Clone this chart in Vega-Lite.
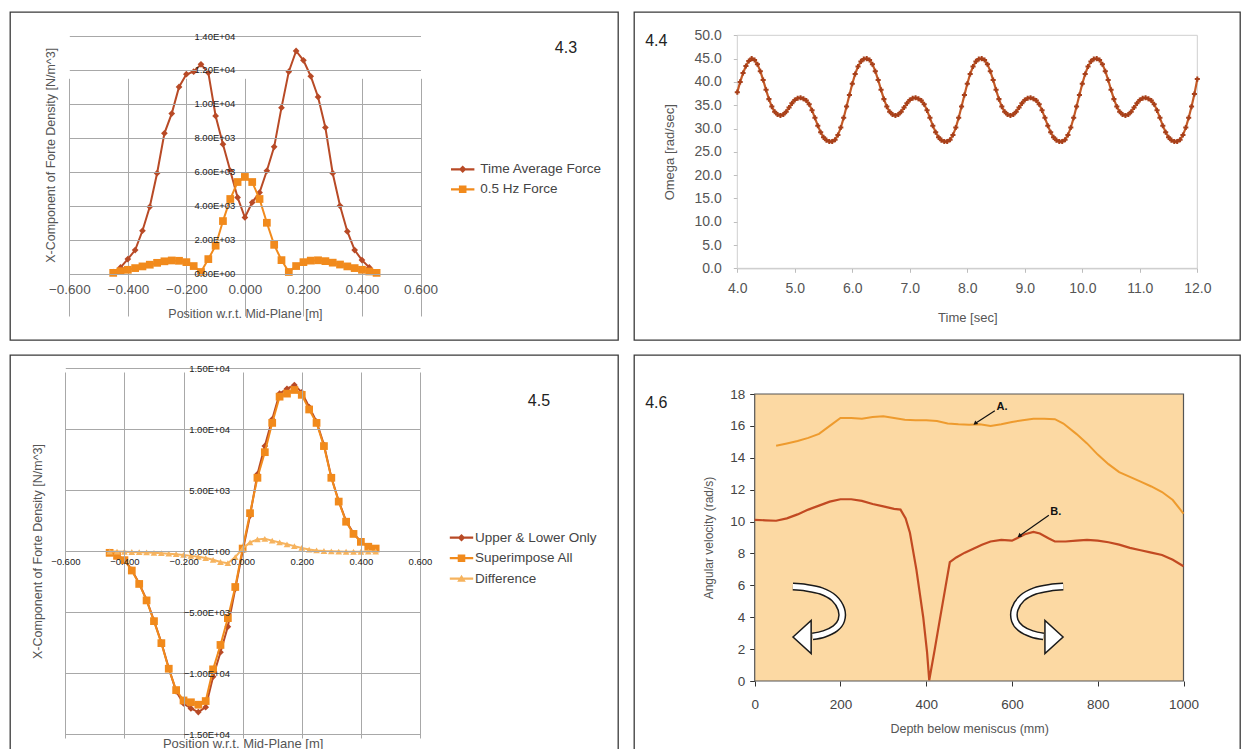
{
"$schema": "https://vega.github.io/schema/vega-lite/v6.json",
"background": "white",
"padding": {"left": 9, "top": 11, "right": 0, "bottom": 0},
"config": {
  "font": "Liberation Sans",
  "view": {"stroke": null},
  "axis": {"labelFont": "Liberation Sans", "titleFont": "Liberation Sans", "titleFontWeight": "normal", "titleColor": "#555", "labelOverlap": false, "labelFlush": false, "labelBound": false},
  "legend": {"labelFont": "Liberation Sans"},
  "text": {"font": "Liberation Sans"}
},
"datasets": {
  "p43": [
    {"s":"Time Average Force","x":-0.45,"y":100},{"s":"Time Average Force","x":-0.425,"y":370},{"s":"Time Average Force","x":-0.4,"y":860},{"s":"Time Average Force","x":-0.375,"y":1390},{"s":"Time Average Force","x":-0.35,"y":2530},{"s":"Time Average Force","x":-0.325,"y":3940},{"s":"Time Average Force","x":-0.3,"y":5920},{"s":"Time Average Force","x":-0.275,"y":8270},{"s":"Time Average Force","x":-0.25,"y":9430},{"s":"Time Average Force","x":-0.225,"y":11000},{"s":"Time Average Force","x":-0.2,"y":11750},{"s":"Time Average Force","x":-0.175,"y":11900},{"s":"Time Average Force","x":-0.15,"y":12330},{"s":"Time Average Force","x":-0.125,"y":11840},{"s":"Time Average Force","x":-0.1,"y":9290},{"s":"Time Average Force","x":-0.075,"y":7630},{"s":"Time Average Force","x":-0.05,"y":6060},{"s":"Time Average Force","x":-0.025,"y":4490},{"s":"Time Average Force","x":0,"y":3310},{"s":"Time Average Force","x":0.025,"y":4200},{"s":"Time Average Force","x":0.05,"y":4780},{"s":"Time Average Force","x":0.075,"y":6060},{"s":"Time Average Force","x":0.1,"y":7470},{"s":"Time Average Force","x":0.125,"y":9780},{"s":"Time Average Force","x":0.15,"y":11900},{"s":"Time Average Force","x":0.175,"y":13120},{"s":"Time Average Force","x":0.2,"y":12570},{"s":"Time Average Force","x":0.225,"y":11630},{"s":"Time Average Force","x":0.25,"y":10410},{"s":"Time Average Force","x":0.275,"y":8610},{"s":"Time Average Force","x":0.3,"y":5920},{"s":"Time Average Force","x":0.325,"y":4000},{"s":"Time Average Force","x":0.35,"y":2490},{"s":"Time Average Force","x":0.375,"y":1390},{"s":"Time Average Force","x":0.4,"y":800},{"s":"Time Average Force","x":0.425,"y":370},{"s":"Time Average Force","x":0.45,"y":80},
    {"s":"0.5 Hz Force","x":-0.45,"y":50},{"s":"0.5 Hz Force","x":-0.425,"y":150},{"s":"0.5 Hz Force","x":-0.4,"y":230},{"s":"0.5 Hz Force","x":-0.375,"y":330},{"s":"0.5 Hz Force","x":-0.35,"y":430},{"s":"0.5 Hz Force","x":-0.325,"y":530},{"s":"0.5 Hz Force","x":-0.3,"y":640},{"s":"0.5 Hz Force","x":-0.275,"y":730},{"s":"0.5 Hz Force","x":-0.25,"y":780},{"s":"0.5 Hz Force","x":-0.225,"y":760},{"s":"0.5 Hz Force","x":-0.2,"y":680},{"s":"0.5 Hz Force","x":-0.175,"y":450},{"s":"0.5 Hz Force","x":-0.15,"y":100},{"s":"0.5 Hz Force","x":-0.125,"y":860},{"s":"0.5 Hz Force","x":-0.1,"y":1650},{"s":"0.5 Hz Force","x":-0.075,"y":3100},{"s":"0.5 Hz Force","x":-0.05,"y":4400},{"s":"0.5 Hz Force","x":-0.025,"y":5400},{"s":"0.5 Hz Force","x":0,"y":5700},{"s":"0.5 Hz Force","x":0.025,"y":5400},{"s":"0.5 Hz Force","x":0.05,"y":4400},{"s":"0.5 Hz Force","x":0.075,"y":3000},{"s":"0.5 Hz Force","x":0.1,"y":1700},{"s":"0.5 Hz Force","x":0.125,"y":800},{"s":"0.5 Hz Force","x":0.15,"y":100},{"s":"0.5 Hz Force","x":0.175,"y":450},{"s":"0.5 Hz Force","x":0.2,"y":680},{"s":"0.5 Hz Force","x":0.225,"y":770},{"s":"0.5 Hz Force","x":0.25,"y":790},{"s":"0.5 Hz Force","x":0.275,"y":740},{"s":"0.5 Hz Force","x":0.3,"y":650},{"s":"0.5 Hz Force","x":0.325,"y":540},{"s":"0.5 Hz Force","x":0.35,"y":430},{"s":"0.5 Hz Force","x":0.375,"y":330},{"s":"0.5 Hz Force","x":0.4,"y":230},{"s":"0.5 Hz Force","x":0.425,"y":130},{"s":"0.5 Hz Force","x":0.45,"y":50}
  ],
  "p44": [
    {"t":4.00,"w":37.8},{"t":4.05,"w":40.0},{"t":4.10,"w":41.9},{"t":4.15,"w":43.4},{"t":4.20,"w":44.5},
    {"t":4.25,"w":45.0},{"t":4.30,"w":44.7},{"t":4.35,"w":43.8},{"t":4.40,"w":42.3},{"t":4.45,"w":40.4},{"t":4.50,"w":38.3},{"t":4.55,"w":36.3},{"t":4.60,"w":34.7},{"t":4.65,"w":33.6},{"t":4.70,"w":33.0},{"t":4.75,"w":32.8},{"t":4.80,"w":33.0},{"t":4.85,"w":33.6},{"t":4.90,"w":34.5},{"t":4.95,"w":35.4},{"t":5.00,"w":36.1},{"t":5.05,"w":36.5},{"t":5.10,"w":36.6},{"t":5.15,"w":36.4},{"t":5.20,"w":36.0},{"t":5.25,"w":35.2},{"t":5.30,"w":33.9},{"t":5.35,"w":32.3},{"t":5.40,"w":30.6},{"t":5.45,"w":29.2},{"t":5.50,"w":28.1},{"t":5.55,"w":27.5},{"t":5.60,"w":27.2},{"t":5.65,"w":27.2},{"t":5.70,"w":27.6},{"t":5.75,"w":28.6},{"t":5.80,"w":30.2},{"t":5.85,"w":32.3},{"t":5.90,"w":34.7},{"t":5.95,"w":37.2},{"t":6.00,"w":39.6},{"t":6.05,"w":41.7},{"t":6.10,"w":43.3},{"t":6.15,"w":44.4},{"t":6.20,"w":44.9},
    {"t":6.25,"w":45.0},{"t":6.30,"w":44.7},{"t":6.35,"w":43.8},{"t":6.40,"w":42.3},{"t":6.45,"w":40.4},{"t":6.50,"w":38.3},{"t":6.55,"w":36.3},{"t":6.60,"w":34.7},{"t":6.65,"w":33.6},{"t":6.70,"w":33.0},{"t":6.75,"w":32.8},{"t":6.80,"w":33.0},{"t":6.85,"w":33.6},{"t":6.90,"w":34.5},{"t":6.95,"w":35.4},{"t":7.00,"w":36.1},{"t":7.05,"w":36.5},{"t":7.10,"w":36.6},{"t":7.15,"w":36.4},{"t":7.20,"w":36.0},{"t":7.25,"w":35.2},{"t":7.30,"w":33.9},{"t":7.35,"w":32.3},{"t":7.40,"w":30.6},{"t":7.45,"w":29.2},{"t":7.50,"w":28.1},{"t":7.55,"w":27.5},{"t":7.60,"w":27.2},{"t":7.65,"w":27.2},{"t":7.70,"w":27.6},{"t":7.75,"w":28.6},{"t":7.80,"w":30.2},{"t":7.85,"w":32.3},{"t":7.90,"w":34.7},{"t":7.95,"w":37.2},{"t":8.00,"w":39.6},{"t":8.05,"w":41.7},{"t":8.10,"w":43.3},{"t":8.15,"w":44.4},{"t":8.20,"w":44.9},
    {"t":8.25,"w":45.0},{"t":8.30,"w":44.7},{"t":8.35,"w":43.8},{"t":8.40,"w":42.3},{"t":8.45,"w":40.4},{"t":8.50,"w":38.3},{"t":8.55,"w":36.3},{"t":8.60,"w":34.7},{"t":8.65,"w":33.6},{"t":8.70,"w":33.0},{"t":8.75,"w":32.8},{"t":8.80,"w":33.0},{"t":8.85,"w":33.6},{"t":8.90,"w":34.5},{"t":8.95,"w":35.4},{"t":9.00,"w":36.1},{"t":9.05,"w":36.5},{"t":9.10,"w":36.6},{"t":9.15,"w":36.4},{"t":9.20,"w":36.0},{"t":9.25,"w":35.2},{"t":9.30,"w":33.9},{"t":9.35,"w":32.3},{"t":9.40,"w":30.6},{"t":9.45,"w":29.2},{"t":9.50,"w":28.1},{"t":9.55,"w":27.5},{"t":9.60,"w":27.2},{"t":9.65,"w":27.2},{"t":9.70,"w":27.6},{"t":9.75,"w":28.6},{"t":9.80,"w":30.2},{"t":9.85,"w":32.3},{"t":9.90,"w":34.7},{"t":9.95,"w":37.2},{"t":10.00,"w":39.6},{"t":10.05,"w":41.7},{"t":10.10,"w":43.3},{"t":10.15,"w":44.4},{"t":10.20,"w":44.9},
    {"t":10.25,"w":45.0},{"t":10.30,"w":44.7},{"t":10.35,"w":43.8},{"t":10.40,"w":42.3},{"t":10.45,"w":40.4},{"t":10.50,"w":38.3},{"t":10.55,"w":36.3},{"t":10.60,"w":34.7},{"t":10.65,"w":33.6},{"t":10.70,"w":33.0},{"t":10.75,"w":32.8},{"t":10.80,"w":33.0},{"t":10.85,"w":33.6},{"t":10.90,"w":34.5},{"t":10.95,"w":35.4},{"t":11.00,"w":36.1},{"t":11.05,"w":36.5},{"t":11.10,"w":36.6},{"t":11.15,"w":36.4},{"t":11.20,"w":36.0},{"t":11.25,"w":35.2},{"t":11.30,"w":33.9},{"t":11.35,"w":32.3},{"t":11.40,"w":30.6},{"t":11.45,"w":29.2},{"t":11.50,"w":28.1},{"t":11.55,"w":27.5},{"t":11.60,"w":27.2},{"t":11.65,"w":27.2},{"t":11.70,"w":27.6},{"t":11.75,"w":28.6},{"t":11.80,"w":30.2},{"t":11.85,"w":32.3},{"t":11.90,"w":34.7},{"t":11.95,"w":37.4},{"t":12.00,"w":40.6}
  ],
  "p45": [
    {"s":"Upper & Lower Only","x":-0.45,"y":-100},{"s":"Upper & Lower Only","x":-0.425,"y":-350},{"s":"Upper & Lower Only","x":-0.4,"y":-700},{"s":"Upper & Lower Only","x":-0.375,"y":-1550},{"s":"Upper & Lower Only","x":-0.35,"y":-2650},{"s":"Upper & Lower Only","x":-0.325,"y":-4000},{"s":"Upper & Lower Only","x":-0.3,"y":-5700},{"s":"Upper & Lower Only","x":-0.275,"y":-7500},{"s":"Upper & Lower Only","x":-0.25,"y":-9600},{"s":"Upper & Lower Only","x":-0.225,"y":-11500},{"s":"Upper & Lower Only","x":-0.2,"y":-12500},{"s":"Upper & Lower Only","x":-0.175,"y":-12900},{"s":"Upper & Lower Only","x":-0.15,"y":-13200},{"s":"Upper & Lower Only","x":-0.125,"y":-12800},{"s":"Upper & Lower Only","x":-0.1,"y":-10300},{"s":"Upper & Lower Only","x":-0.075,"y":-8300},{"s":"Upper & Lower Only","x":-0.05,"y":-6200},{"s":"Upper & Lower Only","x":-0.025,"y":-3100},{"s":"Upper & Lower Only","x":0,"y":0},{"s":"Upper & Lower Only","x":0.025,"y":2900},{"s":"Upper & Lower Only","x":0.05,"y":6300},{"s":"Upper & Lower Only","x":0.075,"y":8600},{"s":"Upper & Lower Only","x":0.1,"y":10800},{"s":"Upper & Lower Only","x":0.125,"y":12900},{"s":"Upper & Lower Only","x":0.15,"y":13300},{"s":"Upper & Lower Only","x":0.175,"y":13600},{"s":"Upper & Lower Only","x":0.2,"y":13000},{"s":"Upper & Lower Only","x":0.225,"y":11800},{"s":"Upper & Lower Only","x":0.25,"y":10600},{"s":"Upper & Lower Only","x":0.275,"y":8700},{"s":"Upper & Lower Only","x":0.3,"y":6050},{"s":"Upper & Lower Only","x":0.325,"y":4100},{"s":"Upper & Lower Only","x":0.35,"y":2450},{"s":"Upper & Lower Only","x":0.375,"y":1450},{"s":"Upper & Lower Only","x":0.4,"y":760},{"s":"Upper & Lower Only","x":0.425,"y":360},{"s":"Upper & Lower Only","x":0.45,"y":200},
    {"s":"Superimpose All","x":-0.45,"y":-150},{"s":"Superimpose All","x":-0.425,"y":-400},{"s":"Superimpose All","x":-0.4,"y":-750},{"s":"Superimpose All","x":-0.375,"y":-1600},{"s":"Superimpose All","x":-0.35,"y":-2700},{"s":"Superimpose All","x":-0.325,"y":-4050},{"s":"Superimpose All","x":-0.3,"y":-5750},{"s":"Superimpose All","x":-0.275,"y":-7550},{"s":"Superimpose All","x":-0.25,"y":-9650},{"s":"Superimpose All","x":-0.225,"y":-11400},{"s":"Superimpose All","x":-0.2,"y":-12250},{"s":"Superimpose All","x":-0.175,"y":-12400},{"s":"Superimpose All","x":-0.15,"y":-12600},{"s":"Superimpose All","x":-0.125,"y":-12300},{"s":"Superimpose All","x":-0.1,"y":-9700},{"s":"Superimpose All","x":-0.075,"y":-7700},{"s":"Superimpose All","x":-0.05,"y":-5500},{"s":"Superimpose All","x":-0.025,"y":-2950},{"s":"Superimpose All","x":0,"y":200},{"s":"Superimpose All","x":0.025,"y":3100},{"s":"Superimpose All","x":0.05,"y":6000},{"s":"Superimpose All","x":0.075,"y":8100},{"s":"Superimpose All","x":0.1,"y":10500},{"s":"Superimpose All","x":0.125,"y":12650},{"s":"Superimpose All","x":0.15,"y":12900},{"s":"Superimpose All","x":0.175,"y":13200},{"s":"Superimpose All","x":0.2,"y":12800},{"s":"Superimpose All","x":0.225,"y":11600},{"s":"Superimpose All","x":0.25,"y":10500},{"s":"Superimpose All","x":0.275,"y":8600},{"s":"Superimpose All","x":0.3,"y":6000},{"s":"Superimpose All","x":0.325,"y":4050},{"s":"Superimpose All","x":0.35,"y":2400},{"s":"Superimpose All","x":0.375,"y":1400},{"s":"Superimpose All","x":0.4,"y":750},{"s":"Superimpose All","x":0.425,"y":350},{"s":"Superimpose All","x":0.45,"y":200},
    {"s":"Difference","x":-0.45,"y":-50},{"s":"Difference","x":-0.425,"y":-50},{"s":"Difference","x":-0.4,"y":-60},{"s":"Difference","x":-0.375,"y":-80},{"s":"Difference","x":-0.35,"y":-100},{"s":"Difference","x":-0.325,"y":-120},{"s":"Difference","x":-0.3,"y":-150},{"s":"Difference","x":-0.275,"y":-180},{"s":"Difference","x":-0.25,"y":-220},{"s":"Difference","x":-0.225,"y":-260},{"s":"Difference","x":-0.2,"y":-320},{"s":"Difference","x":-0.175,"y":-400},{"s":"Difference","x":-0.15,"y":-480},{"s":"Difference","x":-0.125,"y":-580},{"s":"Difference","x":-0.1,"y":-720},{"s":"Difference","x":-0.075,"y":-900},{"s":"Difference","x":-0.05,"y":-1000},{"s":"Difference","x":-0.025,"y":-500},{"s":"Difference","x":0,"y":200},{"s":"Difference","x":0.025,"y":700},{"s":"Difference","x":0.05,"y":950},{"s":"Difference","x":0.075,"y":1000},{"s":"Difference","x":0.1,"y":850},{"s":"Difference","x":0.125,"y":700},{"s":"Difference","x":0.15,"y":550},{"s":"Difference","x":0.175,"y":400},{"s":"Difference","x":0.2,"y":250},{"s":"Difference","x":0.225,"y":120},{"s":"Difference","x":0.25,"y":50},{"s":"Difference","x":0.275,"y":0},{"s":"Difference","x":0.3,"y":-30},{"s":"Difference","x":0.325,"y":-50},{"s":"Difference","x":0.35,"y":-60},{"s":"Difference","x":0.375,"y":-60},{"s":"Difference","x":0.4,"y":-60},{"s":"Difference","x":0.425,"y":-50},{"s":"Difference","x":0.45,"y":-40}
  ],
  "p46": [
    {"s":"A","x":50,"y":14.75},{"s":"A","x":75,"y":14.9},{"s":"A","x":100,"y":15.05},{"s":"A","x":125,"y":15.25},{"s":"A","x":150,"y":15.5},{"s":"A","x":175,"y":16.0},{"s":"A","x":200,"y":16.5},{"s":"A","x":225,"y":16.5},{"s":"A","x":250,"y":16.45},{"s":"A","x":275,"y":16.55},{"s":"A","x":300,"y":16.6},{"s":"A","x":325,"y":16.5},{"s":"A","x":350,"y":16.38},{"s":"A","x":375,"y":16.35},{"s":"A","x":400,"y":16.35},{"s":"A","x":425,"y":16.3},{"s":"A","x":450,"y":16.15},{"s":"A","x":475,"y":16.1},{"s":"A","x":500,"y":16.07},{"s":"A","x":525,"y":16.1},{"s":"A","x":550,"y":16.0},{"s":"A","x":575,"y":16.1},{"s":"A","x":600,"y":16.25},{"s":"A","x":625,"y":16.35},{"s":"A","x":650,"y":16.45},{"s":"A","x":675,"y":16.45},{"s":"A","x":700,"y":16.42},{"s":"A","x":720,"y":16.15},{"s":"A","x":750,"y":15.5},{"s":"A","x":775,"y":14.9},{"s":"A","x":800,"y":14.2},{"s":"A","x":825,"y":13.6},{"s":"A","x":850,"y":13.1},{"s":"A","x":875,"y":12.8},{"s":"A","x":900,"y":12.5},{"s":"A","x":925,"y":12.2},{"s":"A","x":950,"y":11.85},{"s":"A","x":975,"y":11.35},{"s":"A","x":1000,"y":10.5},
    {"s":"B","x":0,"y":10.1},{"s":"B","x":25,"y":10.08},{"s":"B","x":50,"y":10.05},{"s":"B","x":75,"y":10.2},{"s":"B","x":100,"y":10.45},{"s":"B","x":125,"y":10.75},{"s":"B","x":150,"y":11.0},{"s":"B","x":175,"y":11.25},{"s":"B","x":200,"y":11.4},{"s":"B","x":225,"y":11.4},{"s":"B","x":250,"y":11.3},{"s":"B","x":275,"y":11.1},{"s":"B","x":300,"y":10.95},{"s":"B","x":325,"y":10.8},{"s":"B","x":340,"y":10.75},{"s":"B","x":352,"y":10.2},{"s":"B","x":362,"y":9.3},{"s":"B","x":377,"y":7.0},{"s":"B","x":393,"y":4.0},{"s":"B","x":402,"y":1.8},{"s":"B","x":407,"y":0.05},{"s":"B","x":420,"y":2.0},{"s":"B","x":432,"y":3.9},{"s":"B","x":445,"y":5.9},{"s":"B","x":455,"y":7.45},{"s":"B","x":470,"y":7.75},{"s":"B","x":490,"y":8.05},{"s":"B","x":510,"y":8.3},{"s":"B","x":530,"y":8.55},{"s":"B","x":550,"y":8.75},{"s":"B","x":575,"y":8.85},{"s":"B","x":600,"y":8.8},{"s":"B","x":615,"y":9.0},{"s":"B","x":630,"y":9.2},{"s":"B","x":650,"y":9.35},{"s":"B","x":665,"y":9.25},{"s":"B","x":685,"y":8.95},{"s":"B","x":700,"y":8.75},{"s":"B","x":725,"y":8.75},{"s":"B","x":750,"y":8.8},{"s":"B","x":775,"y":8.85},{"s":"B","x":800,"y":8.8},{"s":"B","x":825,"y":8.7},{"s":"B","x":850,"y":8.55},{"s":"B","x":875,"y":8.35},{"s":"B","x":900,"y":8.2},{"s":"B","x":925,"y":8.05},{"s":"B","x":950,"y":7.9},{"s":"B","x":975,"y":7.6},{"s":"B","x":1000,"y":7.2}
  ],
  "arrows": [
    {"a":"L","i":0,"x":89,"y":5.92},{"a":"L","i":1,"x":120,"y":5.85},{"a":"L","i":2,"x":155,"y":5.65},{"a":"L","i":3,"x":185,"y":5.2},{"a":"L","i":4,"x":202,"y":4.5},{"a":"L","i":5,"x":202,"y":3.8},{"a":"L","i":6,"x":188,"y":3.3},{"a":"L","i":7,"x":162,"y":2.95},{"a":"L","i":8,"x":135,"y":2.8},
    {"a":"R","i":0,"x":719.5,"y":5.92},{"a":"R","i":1,"x":688.5,"y":5.85},{"a":"R","i":2,"x":653.5,"y":5.65},{"a":"R","i":3,"x":623.5,"y":5.2},{"a":"R","i":4,"x":606.5,"y":4.5},{"a":"R","i":5,"x":606.5,"y":3.8},{"a":"R","i":6,"x":620.5,"y":3.3},{"a":"R","i":7,"x":646.5,"y":2.95},{"a":"R","i":8,"x":673.5,"y":2.8}
  ],
  "heads": [{"a":"L","x":127.8,"y":2.76},{"a":"R","x":680.7,"y":2.76}],
  "notes": [{"x":560,"y":16.95,"x2":514,"y2":16.15},{"x":686,"y":10.4,"x2":617,"y2":9.1}],
  "noteheads": [{"x":514,"y":16.15},{"x":617,"y":9.1}],
  "notetext": [{"x":577,"y":17.2,"label":"A."},{"x":702,"y":10.6,"label":"B."}]
},
"resolve": {"scale": {"x": "independent", "y": "independent", "color": "independent", "shape": "independent"}, "legend": {"color": "independent", "shape": "independent"}},
"spacing": 13,
"vconcat": [
 {
  "spacing": 14,
  "resolve": {"scale": {"x": "independent", "y": "independent", "color": "independent", "shape": "independent"}, "legend": {"color": "independent", "shape": "independent"}},
  "hconcat": [
   {
    "width": 608, "height": 328,
    "view": {"stroke": "#3a3a3a", "strokeWidth": 1.3, "fill": "white"},
    "data": {"name": "p43"},
    "encoding": {
     "x": {"field": "x", "type": "quantitative",
       "scale": {"domain": [-0.6, 0.6], "range": [59.3, 410.5], "nice": false, "zero": false},
       "axis": {"values": [-0.6,-0.4,-0.2,0,0.2,0.4,0.6], "format": ".3f", "offset": -66.3, "grid": true, "gridColor": "#a8a8a8", "gridOpacity": 1, "domain": false, "ticks": false, "labelPadding": 9, "labelFontSize": 13.5, "labelColor": "#555", "title": "Position w.r.t. Mid-Plane [m]", "titleFontSize": 12.5, "titlePadding": 11}},
     "y": {"field": "y", "type": "quantitative",
       "scale": {"domain": [0, 14000], "range": [261.7, 24], "nice": false, "zero": false},
       "axis": {"values": [0,2000,4000,6000,8000,10000,12000,14000], "labelExpr": "datum.value == 0 ? '0.00E+00' : format(datum.value / pow(10, floor(log(abs(datum.value)) / LN10 + 0.000001)), '.2f') + 'E+0' + floor(log(abs(datum.value)) / LN10 + 0.000001)", "offset": -234.9, "grid": true, "gridColor": "#a8a8a8", "gridOpacity": 1, "domain": false, "ticks": false, "zindex": 1, "labelPadding": 10, "labelFontSize": 9.5, "labelColor": "#222", "title": "X-Component of Forte Density [N/m^3]", "titleFontSize": 12.5, "titlePadding": 136}}
    },
    "layer": [
     {"transform": [{"filter": "datum.s == 'Time Average Force'"}], "mark": {"type": "line", "color": "#B84A26", "strokeWidth": 2}},
     {"transform": [{"filter": "datum.s == 'Time Average Force'"}], "mark": {"type": "point", "shape": "diamond", "filled": true, "size": 45, "color": "#B84A26", "opacity": 1}},
     {"transform": [{"filter": "datum.s == '0.5 Hz Force'"}], "mark": {"type": "line", "color": "#F18A1C", "strokeWidth": 2}},
     {"transform": [{"filter": "datum.s == '0.5 Hz Force'"}], "mark": {"type": "point", "shape": "square", "filled": true, "size": 60, "color": "#F18A1C", "opacity": 1}},
     {"transform": [{"filter": "false"}], "mark": {"type": "point", "filled": true, "opacity": 1},
      "encoding": {
       "color": {"field": "s", "type": "nominal", "scale": {"domain": ["Time Average Force", "0.5 Hz Force"], "range": ["#B84A26", "#F18A1C"]},
         "legend": {"orient": "none", "legendX": 443.7, "legendY": 148.3, "title": null, "labelFontSize": 13.5, "labelColor": "#444", "symbolSize": 324, "labelOffset": 8.6, "rowPadding": 4, "padding": 0, "symbolStrokeWidth": 0}},
       "shape": {"field": "s", "type": "nominal", "scale": {"domain": ["Time Average Force", "0.5 Hz Force"], "range": ["M-1.3,-0.12H1.3V0.12H-1.3Z M0,-0.42L0.42,0L0,0.42L-0.42,0Z", "M-1.3,-0.12H1.3V0.12H-1.3Z M-0.42,-0.42H0.42V0.42H-0.42Z"]},
         "legend": {"orient": "none", "legendX": 443.7, "legendY": 148.3, "title": null, "labelFontSize": 13.5, "labelColor": "#444", "symbolSize": 324, "labelOffset": 8.6, "rowPadding": 4, "padding": 0, "symbolStrokeWidth": 0}}
      }},
     {"data": {"values": [{"x": 1.097, "y": 13290, "label": "4.3"}]}, "mark": {"type": "text", "fontSize": 16, "color": "#222"}, "encoding": {"text": {"field": "label"}}}
    ]
   },
   {
    "width": 606, "height": 328,
    "view": {"stroke": "#3a3a3a", "strokeWidth": 1.3, "fill": "white"},
    "data": {"name": "p44"},
    "encoding": {
     "x": {"field": "t", "type": "quantitative",
       "scale": {"domain": [4, 12], "range": [103.3, 563.3], "nice": false, "zero": false},
       "axis": {"values": [4,5,6,7,8,9,10,11,12], "format": ".1f", "offset": -71.7, "grid": false, "domain": true, "domainColor": "#bdbdbd", "ticks": true, "tickSize": 4, "tickColor": "#bdbdbd", "labelPadding": 9, "labelFontSize": 14, "labelColor": "#555", "title": "Time [sec]", "titleFontSize": 13, "titlePadding": 16}},
     "y": {"field": "w", "type": "quantitative",
       "scale": {"domain": [0, 50], "range": [256.3, 23.3], "nice": false, "zero": false},
       "axis": {"values": [0,5,10,15,20,25,30,35,40,45,50], "format": ".1f", "offset": -103.3, "grid": false, "domain": false, "ticks": true, "tickSize": 4, "tickColor": "#bdbdbd", "labelPadding": 12, "labelFontSize": 14, "labelColor": "#555", "title": "Omega [rad/sec]", "titleFontSize": 13, "titlePadding": 18}}
    },
    "layer": [
     {"data": {"values": [{"t": 4, "w": 0, "t2": 12, "w2": 50}]}, "mark": {"type": "rect", "fill": "transparent", "stroke": "#cfcfcf", "strokeWidth": 1}, "encoding": {"x2": {"field": "t2"}, "y2": {"field": "w2"}}},
     {"mark": {"type": "line", "color": "#C45A26", "strokeWidth": 2.2}},
     {"mark": {"type": "point", "shape": "cross", "size": 26, "filled": true, "color": "#A8401A", "opacity": 1}},
     {"data": {"values": [{"t": 2.591, "w": 48.78, "label": "4.4"}]}, "mark": {"type": "text", "fontSize": 16, "color": "#222"}, "encoding": {"text": {"field": "label"}}}
    ]
   }
  ]
 },
 {
  "spacing": 14,
  "resolve": {"scale": {"x": "independent", "y": "independent", "color": "independent", "shape": "independent"}, "legend": {"color": "independent", "shape": "independent"}},
  "hconcat": [
   {
    "width": 608, "height": 396,
    "view": {"stroke": "#3a3a3a", "strokeWidth": 1.3, "fill": "white"},
    "data": {"name": "p45"},
    "encoding": {
     "x": {"field": "x", "type": "quantitative",
       "scale": {"domain": [-0.6, 0.6], "range": [55.3, 410], "nice": false, "zero": false},
       "axis": {"values": [-0.6,-0.4,-0.2,0,0.2,0.4,0.6], "format": ".3f", "offset": -200, "grid": true, "gridColor": "#a8a8a8", "gridOpacity": 1, "domain": false, "ticks": false, "zindex": 1, "labelPadding": 5, "labelFontSize": 9.5, "labelColor": "#222", "title": "Position w.r.t. Mid-Plane [m]", "titleFontSize": 13, "titlePadding": 172}},
     "y": {"field": "y", "type": "quantitative",
       "scale": {"domain": [-15000, 15000], "range": [379, 13], "nice": false, "zero": false},
       "axis": {"values": [-15000,-10000,-5000,0,5000,10000,15000], "labelExpr": "datum.value == 0 ? '0.00E+00' : format(datum.value / pow(10, floor(log(abs(datum.value)) / LN10 + 0.000001)), '.2f') + 'E+0' + floor(log(abs(datum.value)) / LN10 + 0.000001)", "offset": -232.65, "grid": true, "gridColor": "#a8a8a8", "gridOpacity": 1, "domain": false, "ticks": false, "zindex": 1, "labelPadding": 13, "labelFontSize": 9.5, "labelColor": "#222", "title": "X-Component of Forte Density [N/m^3]", "titleFontSize": 12.5, "titlePadding": 139}}
    },
    "layer": [
     {"transform": [{"filter": "datum.s == 'Upper & Lower Only'"}], "mark": {"type": "line", "color": "#B84A26", "strokeWidth": 2}},
     {"transform": [{"filter": "datum.s == 'Upper & Lower Only'"}], "mark": {"type": "point", "shape": "diamond", "filled": true, "size": 45, "color": "#B84A26", "opacity": 1}},
     {"transform": [{"filter": "datum.s == 'Superimpose All'"}], "mark": {"type": "line", "color": "#F18A1C", "strokeWidth": 2}},
     {"transform": [{"filter": "datum.s == 'Superimpose All'"}], "mark": {"type": "point", "shape": "square", "filled": true, "size": 60, "color": "#F18A1C", "opacity": 1}},
     {"transform": [{"filter": "datum.s == 'Difference'"}], "mark": {"type": "line", "color": "#F6B35E", "strokeWidth": 2}},
     {"transform": [{"filter": "datum.s == 'Difference'"}], "mark": {"type": "point", "shape": "triangle-up", "filled": true, "size": 45, "color": "#F6B35E", "opacity": 1}},
     {"transform": [{"filter": "false"}], "mark": {"type": "point", "filled": true, "opacity": 1},
      "encoding": {
       "color": {"field": "s", "type": "nominal", "scale": {"domain": ["Upper & Lower Only", "Superimpose All", "Difference"], "range": ["#B84A26", "#F18A1C", "#F6B35E"]},
         "legend": {"orient": "none", "legendX": 442.5, "legendY": 173.7, "title": null, "labelFontSize": 13.5, "labelColor": "#444", "symbolSize": 324, "labelOffset": 4.5, "rowPadding": 4.5, "padding": 0, "symbolStrokeWidth": 0}},
       "shape": {"field": "s", "type": "nominal", "scale": {"domain": ["Upper & Lower Only", "Superimpose All", "Difference"], "range": ["M-1.3,-0.12H1.3V0.12H-1.3Z M0,-0.42L0.42,0L0,0.42L-0.42,0Z", "M-1.3,-0.12H1.3V0.12H-1.3Z M-0.42,-0.42H0.42V0.42H-0.42Z", "M-1.3,-0.12H1.3V0.12H-1.3Z M0,-0.45L0.48,0.35L-0.48,0.35Z"]},
         "legend": {"orient": "none", "legendX": 442.5, "legendY": 173.7, "title": null, "labelFontSize": 13.5, "labelColor": "#444", "symbolSize": 324, "labelOffset": 4.5, "rowPadding": 4.5, "padding": 0, "symbolStrokeWidth": 0}}
      }},
     {"data": {"values": [{"x": 1.0025, "y": 12295, "label": "4.5"}]}, "mark": {"type": "text", "fontSize": 16, "color": "#222"}, "encoding": {"text": {"field": "label"}}}
    ]
   },
   {
    "width": 606, "height": 396,
    "view": {"stroke": "#3a3a3a", "strokeWidth": 1.3, "fill": "white"},
    "encoding": {
     "x": {"field": "x", "type": "quantitative",
       "scale": {"domain": [0, 1000], "range": [120.7, 549.5], "nice": false, "zero": false},
       "axis": {"values": [0,200,400,600,800,1000], "format": "d", "offset": -70, "grid": false, "domain": false, "ticks": true, "tickSize": 5, "tickColor": "#333", "labelPadding": 11, "labelFontSize": 13.5, "labelColor": "#444", "title": "Depth below meniscus (mm)", "titleFontSize": 12.5, "titlePadding": 12}},
     "y": {"field": "y", "type": "quantitative",
       "scale": {"domain": [0, 18], "range": [326, 39], "nice": false, "zero": false},
       "axis": {"values": [0,2,4,6,8,10,12,14,16,18], "format": "d", "offset": -120.7, "grid": false, "domain": false, "ticks": true, "tickSize": 5, "tickColor": "#333", "labelPadding": 5, "labelFontSize": 13.5, "labelColor": "#444", "title": "Angular velocity (rad/s)", "titleFontSize": 12, "titlePadding": 14}}
    },
    "layer": [
     {"data": {"values": [{"x": 0, "y": 0, "x2": 1000, "y2": 18}]}, "mark": {"type": "rect", "fill": "#FCD9A3", "stroke": "#555", "strokeWidth": 1.2}, "encoding": {"x2": {"field": "x2"}, "y2": {"field": "y2"}}},
     {"data": {"name": "p46"}, "transform": [{"filter": "datum.s == 'A'"}], "mark": {"type": "line", "color": "#EE9B2E", "strokeWidth": 2}},
     {"data": {"name": "p46"}, "transform": [{"filter": "datum.s == 'B'"}], "mark": {"type": "line", "color": "#C24A22", "strokeWidth": 2.2}},
     {"data": {"name": "arrows"}, "mark": {"type": "line", "color": "#1a1a1a", "strokeWidth": 8, "interpolate": "cardinal", "strokeCap": "butt"}, "encoding": {"detail": {"field": "a"}, "order": {"field": "i", "type": "quantitative"}}},
     {"data": {"name": "arrows"}, "mark": {"type": "line", "color": "white", "strokeWidth": 5, "interpolate": "cardinal", "strokeCap": "butt"}, "encoding": {"detail": {"field": "a"}, "order": {"field": "i", "type": "quantitative"}}},
     {"data": {"name": "heads"}, "transform": [{"filter": "datum.a == 'L'"}], "mark": {"type": "point", "shape": "M-1,0L0.1,-1L0.1,1Z", "size": 1089, "filled": true, "fill": "white", "stroke": "#1a1a1a", "strokeWidth": 1.5, "opacity": 1}},
     {"data": {"name": "heads"}, "transform": [{"filter": "datum.a == 'R'"}], "mark": {"type": "point", "shape": "M1,0L-0.1,-1L-0.1,1Z", "size": 1089, "filled": true, "fill": "white", "stroke": "#1a1a1a", "strokeWidth": 1.5, "opacity": 1}},
     {"data": {"name": "notes"}, "mark": {"type": "rule", "color": "#111", "strokeWidth": 1.2}, "encoding": {"x2": {"field": "x2"}, "y2": {"field": "y2"}}},
     {"data": {"name": "noteheads"}, "mark": {"type": "point", "shape": "triangle-up", "size": 22, "filled": true, "color": "#111", "angle": 232, "opacity": 1}},
     {"data": {"name": "notetext"}, "mark": {"type": "text", "fontSize": 11, "fontWeight": "bold", "color": "#111"}, "encoding": {"text": {"field": "label"}}},
     {"data": {"values": [{"x": -229.5, "y": 17.44, "label": "4.6"}]}, "mark": {"type": "text", "fontSize": 16, "color": "#222"}, "encoding": {"text": {"field": "label"}}}
    ]
   }
  ]
 }
]
}
